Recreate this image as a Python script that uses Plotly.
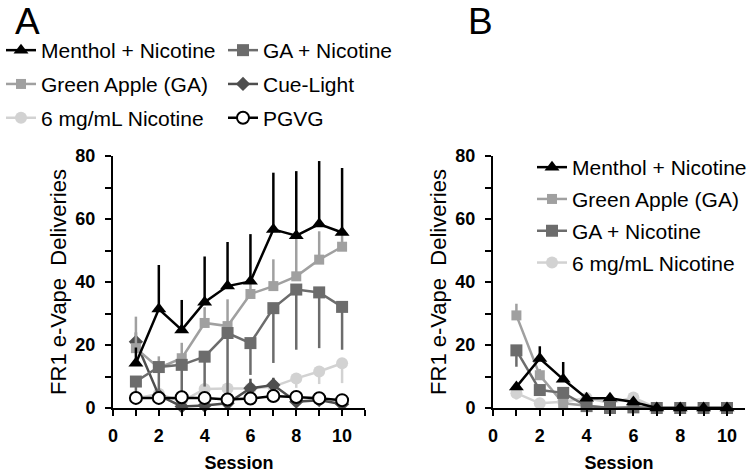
import plotly.graph_objects as go

# ---------------- data ----------------
sessions = [1, 2, 3, 4, 5, 6, 7, 8, 9, 10]

# Panel A (acquisition)
menthol_A = [14.2, 31.4, 24.8, 33.6, 38.7, 40.2, 56.7, 54.7, 58.4, 55.7]
menthol_A_err = [5.0, 14.0, 9.5, 14.5, 14.0, 15.0, 18.0, 20.5, 20.0, 20.5]
ga_A = [19.0, 12.7, 15.8, 27.0, 26.0, 36.2, 38.7, 41.8, 47.1, 51.2]
ga_A_err = [10.0, 3.7, 4.9, 5.0, 8.5, 4.0, 8.5, 12.0, 9.0, 4.0]
ganic_A = [8.4, 13.0, 13.7, 16.3, 23.8, 20.6, 31.7, 37.6, 36.7, 32.1]
ganic_A_err = [4.0, 8.3, 10.1, 9.5, 20.2, 10.1, 17.4, 19.1, 17.7, 13.6]
cue_A = [21.0, 4.0, 0.5, 0.8, 1.5, 6.3, 7.3, 2.0, 2.5, 1.2]
cue_A_err = [3.0, 1.0, 0.5, 0.5, 1.0, 3.0, 2.3, 1.0, 1.0, 0.5]
nic6_A = [3.0, 4.5, 2.0, 6.0, 6.2, 6.2, 6.8, 9.4, 11.6, 14.2]
nic6_A_err = [1.0, 1.5, 1.0, 2.0, 2.0, 1.5, 2.0, 3.0, 4.0, 6.3]
pgvg_A = [3.2, 3.2, 3.4, 3.2, 2.7, 3.0, 3.8, 3.5, 3.1, 2.5]

# Panel B (extinction)
menthol_B = [6.7, 15.7, 9.1, 3.1, 3.1, 1.9, 0, 0, 0, 0]
menthol_B_err = [1.0, 3.9, 5.5, 1.0, 0.5, 0.5, 0, 0, 0, 0]
ga_B = [29.4, 10.4, 1.5, 0.8, 0, 0, 0, 0, 0, 0]
ga_B_err = [3.7, 2.0, 0.5, 0.3, 0, 0, 0, 0, 0, 0]
ganic_B = [18.3, 5.7, 4.8, 0.6, 0, 0.2, 0, 0, 0, 0]
ganic_B_err = [5.2, 1.5, 1.5, 0.3, 0, 0, 0, 0, 0, 0]
nic6_B = [4.7, 1.5, 2.0, 3.2, 1.6, 3.3, 0, 0, 0, 0]
nic6_B_err = [2.0, 0.5, 0.5, 0.5, 0.5, 0.5, 0, 0, 0, 0]

names = {
    "menthol": "Menthol + Nicotine",
    "ga": "Green Apple (GA)",
    "ganic": "GA + Nicotine",
    "cue": "Cue-Light",
    "nic6": "6 mg/mL Nicotine",
    "pgvg": "PGVG",
}

BLACK = "#000000"
C_GA = "#a0a0a0"
C_GANIC = "#6c6c6c"
C_CUE = "#4e4e4e"
C_NIC6 = "#d2d2d2"

FONT = "Liberation Sans, Arial, sans-serif"
LW = 2.5

fig = go.Figure()


def add(x, y, err, up, key, color, symbol, size, xa, ya, legend, rank,
        fill=None, edge=None, show=True):
    eb = None
    if err is not None:
        if up:
            eb = dict(type="data", symmetric=False, array=err,
                      arrayminus=[0] * len(err), color=color,
                      thickness=LW, width=0)
        else:
            eb = dict(type="data", symmetric=False, arrayminus=err,
                      array=[0] * len(err), color=color,
                      thickness=LW, width=0)
    fig.add_trace(go.Scatter(
        x=x, y=y, mode="lines+markers", name=names[key],
        line=dict(color=edge or color, width=LW),
        marker=dict(symbol=symbol, size=size, color=fill or color,
                    line=dict(color=edge or color, width=2 if edge else 0)),
        error_y=eb, xaxis=xa, yaxis=ya, legend=legend, legendrank=rank,
        legendgroup=key + legend, showlegend=show, cliponaxis=False,
    ))


# Panel A traces (back to front)
add(sessions, nic6_A, nic6_A_err, False, "nic6", C_NIC6, "circle", 12, "x", "y", "legend", 3)
add(sessions, cue_A, cue_A_err, True, "cue", C_CUE, "diamond", 11, "x", "y", "legend2", 2)
add(sessions, ga_A, ga_A_err, True, "ga", C_GA, "square", 10, "x", "y", "legend", 2)
add(sessions, ganic_A, ganic_A_err, False, "ganic", C_GANIC, "square", 12, "x", "y", "legend2", 1)
add(sessions, menthol_A, menthol_A_err, True, "menthol", BLACK, "triangle-up", 13, "x", "y", "legend", 1)
add(sessions, pgvg_A, None, True, "pgvg", BLACK, "circle", 12, "x", "y", "legend2", 3,
    fill="#ffffff", edge=BLACK)

# Panel B traces
add(sessions, nic6_B, nic6_B_err, False, "nic6", C_NIC6, "circle", 12, "x2", "y2", "legend3", 4)
add(sessions, ga_B, ga_B_err, True, "ga", C_GA, "square", 10, "x2", "y2", "legend3", 2)
add(sessions, ganic_B, ganic_B_err, False, "ganic", C_GANIC, "square", 12, "x2", "y2", "legend3", 3)
add(sessions, menthol_B, menthol_B_err, True, "menthol", BLACK, "triangle-up", 13, "x2", "y2", "legend3", 1)

W, H = 752, 474


def px_x(p):
    return p / W


def px_y(p):
    return 1 - p / H


axis_common = dict(
    showline=True, linewidth=2, linecolor=BLACK, mirror=False,
    ticks="outside", ticklen=6, tickwidth=2, tickcolor=BLACK,
    showgrid=False, zeroline=False, automargin=False,
    tickfont=dict(family=FONT, size=18, color=BLACK, weight="bold"),
)

xcommon = dict(axis_common, tick0=0, dtick=2,
               minor=dict(dtick=1, ticks="outside", ticklen=6, tickwidth=2, tickcolor=BLACK),
               ticklabelstandoff=4,
               title=dict(text="Session", standoff=12,
                          font=dict(family=FONT, size=18, color=BLACK, weight="bold")))
ycommon = dict(axis_common, range=[0, 80], tick0=0, dtick=20,
               minor=dict(dtick=10, ticks="outside", ticklen=6, tickwidth=2, tickcolor=BLACK),
               ticklabelstandoff=6,
               title=dict(text="FR1 e-Vape\u00a0 Deliveries", standoff=3,
                          font=dict(family=FONT, size=22, color=BLACK)))

ydom = [px_y(408), px_y(156)]

legend_font = dict(family=FONT, size=21, color=BLACK)

fig.update_layout(
    template="none",
    width=W, height=H,
    margin=dict(l=0, r=0, t=0, b=0, autoexpand=False),
    paper_bgcolor="white", plot_bgcolor="white",
    xaxis=dict(xcommon, domain=[px_x(113), px_x(365)], range=[0, 11], anchor="y"),
    yaxis=dict(ycommon, domain=ydom, anchor="x"),
    xaxis2=dict(xcommon, domain=[px_x(493), px_x(745)], range=[0, 10.77], anchor="y2"),
    yaxis2=dict(ycommon, domain=ydom, anchor="x2"),
    legend=dict(x=px_x(1), y=px_y(30), xanchor="left", yanchor="top",
                font=legend_font, bgcolor="rgba(0,0,0,0)", tracegroupgap=3.5,
                itemwidth=30, traceorder="grouped", borderwidth=0),
    legend2=dict(x=px_x(223), y=px_y(30), xanchor="left", yanchor="top",
                 font=legend_font, bgcolor="rgba(0,0,0,0)", tracegroupgap=3.5,
                 itemwidth=30, traceorder="grouped", borderwidth=0),
    legend3=dict(x=px_x(532), y=px_y(147), xanchor="left", yanchor="top",
                 font=legend_font, bgcolor="rgba(0,0,0,0)", tracegroupgap=1.5,
                 itemwidth=30, traceorder="grouped", borderwidth=0),
    annotations=[
        dict(text="A", x=px_x(14), y=px_y(0), xref="paper", yref="paper",
             xanchor="left", yanchor="top", showarrow=False, borderpad=0,
             font=dict(family=FONT, size=37, color=BLACK)),
        dict(text="B", x=px_x(467), y=px_y(0), xref="paper", yref="paper",
             xanchor="left", yanchor="top", showarrow=False, borderpad=0,
             font=dict(family=FONT, size=37, color=BLACK)),
    ],
)

fig.write_html("out.html", config={"displayModeBar": False},
               post_script="document.body.style.margin='0';")
